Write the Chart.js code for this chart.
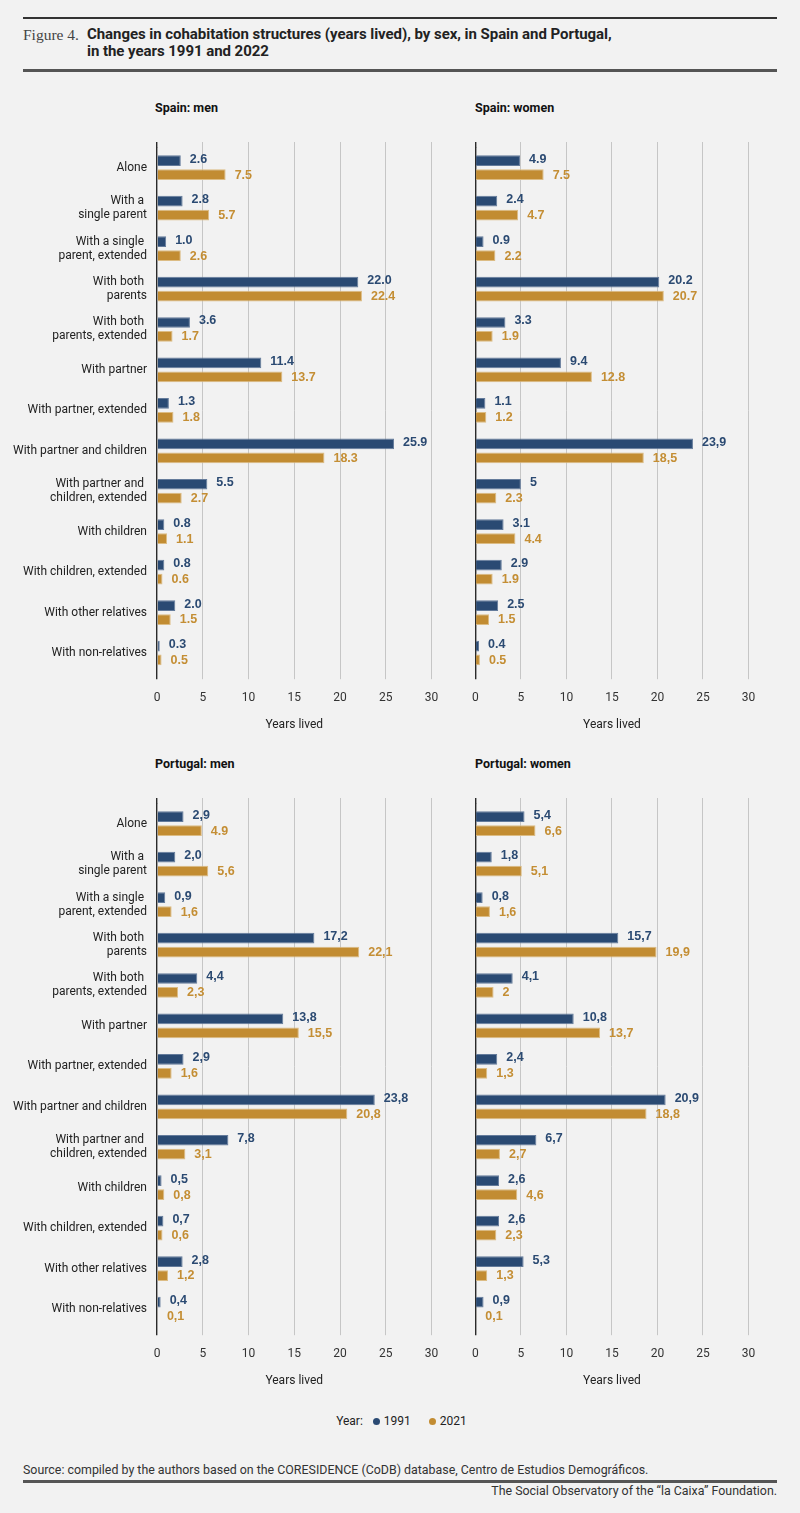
<!DOCTYPE html>
<html><head><meta charset="utf-8">
<script src="https://cdn.jsdelivr.net/npm/chart.js@4.4.1/dist/chart.umd.min.js"></script>
<style>
html,body{margin:0;padding:0;background:#f2f2f2;}
body{width:800px;height:1513px;position:relative;overflow:hidden;font-family:Roboto,"Liberation Sans",sans-serif;color:#222;}
.abs{position:absolute;white-space:nowrap;}
.rule1{left:23px;width:754px;top:17px;height:2px;background:#333;}
.rule2{left:23px;width:754px;top:69px;height:3px;background:#555;}
.rule3{left:23px;width:754px;top:1480px;height:3px;background:#555;}
.fig{left:23px;top:26px;font-family:"Liberation Serif",serif;font-size:15.5px;color:#444;line-height:18px;}
.title{left:87px;top:26px;font-weight:bold;font-size:15px;letter-spacing:-0.05px;line-height:17px;color:#222;}
.ptitle{font-weight:bold;font-size:12.5px;line-height:14px;color:#111;}
.legend{left:0;width:803px;top:1413px;text-align:center;font-size:12px;line-height:16px;color:#222;}
.dot{display:inline-block;width:7px;height:7px;border-radius:50%;margin:0 4px 0 10px;vertical-align:0px;}
.src{left:23px;top:1462px;font-size:12.4px;line-height:16px;color:#333;}
.foot{right:23px;top:1483px;font-size:12.4px;line-height:16px;color:#333;}
canvas{position:absolute;}
</style></head>
<body>
<div class="abs rule1"></div>
<div class="abs fig">Figure 4.</div>
<div class="abs title">Changes in cohabitation structures (years lived), by sex, in Spain and Portugal,<br>in the years 1991 and 2022</div>
<div class="abs rule2"></div>

<div class="abs ptitle" style="left:155px;top:101px;">Spain: men</div>
<div class="abs ptitle" style="left:475px;top:101px;">Spain: women</div>
<div class="abs ptitle" style="left:155px;top:757px;">Portugal: men</div>
<div class="abs ptitle" style="left:475px;top:757px;">Portugal: women</div>

<canvas id="c1" width="460" height="620" style="left:0;top:120px;"></canvas>
<canvas id="c2" width="340" height="620" style="left:460px;top:120px;"></canvas>
<canvas id="c3" width="460" height="620" style="left:0;top:776px;"></canvas>
<canvas id="c4" width="340" height="620" style="left:460px;top:776px;"></canvas>

<div class="abs legend">Year:<span class="dot" style="background:#2a4a73"></span>1991<span class="dot" style="background:#c28c32;margin-left:18px"></span>2021</div>
<div class="abs src">Source: compiled by the authors based on the CORESIDENCE (CoDB) database, Centro de Estudios Demográficos.</div>
<div class="abs rule3"></div>
<div class="abs foot">The Social Observatory of the “la Caixa” Foundation.</div>

<script>
const categories = [
  "Alone",
  ["With a ", "single parent"],
  ["With a single ", "parent, extended"],
  ["With both ", "parents"],
  ["With both ", "parents, extended"],
  "With partner",
  "With partner, extended",
  "With partner and children",
  ["With partner and ", "children, extended"],
  "With children",
  "With children, extended",
  "With other relatives",
  "With non-relatives"
];
const xTicks = [0, 5, 10, 15, 20, 25, 30];
const seriesNames = ["1991", "2021"];

const spainMen1991 = [2.6, 2.8, 1.0, 22.0, 3.6, 11.4, 1.3, 25.9, 5.5, 0.8, 0.8, 2.0, 0.3];
const spainMen2021 = [7.5, 5.7, 2.6, 22.4, 1.7, 13.7, 1.8, 18.3, 2.7, 1.1, 0.6, 1.5, 0.5];
const spainWomen1991 = [4.9, 2.4, 0.9, 20.2, 3.3, 9.4, 1.1, 23.9, 5, 3.1, 2.9, 2.5, 0.4];
const spainWomen2021 = [7.5, 4.7, 2.2, 20.7, 1.9, 12.8, 1.2, 18.5, 2.3, 4.4, 1.9, 1.5, 0.5];
const portugalMen1991 = [2.9, 2.0, 0.9, 17.2, 4.4, 13.8, 2.9, 23.8, 7.8, 0.5, 0.7, 2.8, 0.4];
const portugalMen2021 = [4.9, 5.6, 1.6, 22.1, 2.3, 15.5, 1.6, 20.8, 3.1, 0.8, 0.6, 1.2, 0.1];
const portugalWomen1991 = [5.4, 1.8, 0.8, 15.7, 4.1, 10.8, 2.4, 20.9, 6.7, 2.6, 2.6, 5.3, 0.9];
const portugalWomen2021 = [6.6, 5.1, 1.6, 19.9, 2, 13.7, 1.3, 18.8, 2.7, 4.6, 2.3, 1.3, 0.1];

// value labels exactly as printed in the figure
const spainMen1991Text = ["2.6","2.8","1.0","22.0","3.6","11.4","1.3","25.9","5.5","0.8","0.8","2.0","0.3"];
const spainMen2021Text = ["7.5","5.7","2.6","22.4","1.7","13.7","1.8","18.3","2.7","1.1","0.6","1.5","0.5"];
const spainWomen1991Text = ["4.9","2.4","0.9","20.2","3.3","9.4","1.1","23,9","5","3.1","2.9","2.5","0.4"];
const spainWomen2021Text = ["7.5","4.7","2.2","20.7","1.9","12.8","1.2","18,5","2.3","4.4","1.9","1.5","0.5"];
const portugalMen1991Text = ["2,9","2,0","0,9","17,2","4,4","13,8","2,9","23,8","7,8","0,5","0,7","2,8","0,4"];
const portugalMen2021Text = ["4.9","5,6","1,6","22,1","2,3","15,5","1,6","20,8","3,1","0,8","0,6","1,2","0,1"];
const portugalWomen1991Text = ["5,4","1,8","0,8","15,7","4,1","10,8","2,4","20,9","6,7","2,6","2,6","5,3","0,9"];
const portugalWomen2021Text = ["6,6","5,1","1,6","19,9","2","13,7","1,3","18,8","2,7","4,6","2,3","1,3","0,1"];

const NAVY = "#2a4a73", GOLD = "#c28c32";
const NAVY_TXT = "#2b4a72", GOLD_TXT = "#c48e34";

const valueLabels = {
  id: "valueLabels",
  afterDatasetsDraw(chart) {
    const ctx = chart.ctx;
    chart.data.datasets.forEach((ds, i) => {
      const meta = chart.getDatasetMeta(i);
      meta.data.forEach((bar, j) => {
        ctx.save();
        ctx.font = 'bold 12.5px "Liberation Sans", Arial, sans-serif';
        ctx.fillStyle = ds.labelColor;
        ctx.textAlign = "left";
        ctx.textBaseline = "middle";
        ctx.fillText(ds.labelTexts[j], bar.x + 9, bar.y + (i === 0 ? -1.5 : 0.5));
        ctx.restore();
      });
    });
  }
};

const gridColor = c => (c.tick && c.tick.value === 0) ? "#2a2a2a" : "#c6c6c6";
const gridWidth = c => (c.tick && c.tick.value === 0) ? 1.4 : 1;

function makePanel(id, v91, v21, t91, t21, showLabels) {
  new Chart(document.getElementById(id), {
    type: "bar",
    data: {
      labels: categories,
      datasets: [
        { label: seriesNames[0], data: v91, backgroundColor: NAVY, borderColor: "#647b9b", borderWidth: 1,
          categoryPercentage: 0.69, barPercentage: 0.77, labelColor: NAVY_TXT, labelTexts: t91 },
        { label: seriesNames[1], data: v21, backgroundColor: GOLD, borderColor: "#dcbc84", borderWidth: 1,
          categoryPercentage: 0.69, barPercentage: 0.77, labelColor: GOLD_TXT, labelTexts: t21 }
      ]
    },
    options: {
      indexAxis: "y",
      responsive: false,
      maintainAspectRatio: false,
      animation: false,
      layout: { padding: { left: showLabels ? 0 : 14, right: showLabels ? 28.5 : 51.5, top: 22, bottom: 4 } },
      plugins: { legend: { display: false }, tooltip: { enabled: false } },
      scales: {
        x: {
          type: "linear", position: "bottom", min: xTicks[0], max: xTicks[xTicks.length - 1],
          afterBuildTicks: s => { s.ticks = xTicks.map(v => ({ value: v })); },
          ticks: { padding: 12, color: "#333", font: { family: "Roboto", size: 12 } },
          grid: { color: gridColor, lineWidth: gridWidth, tickLength: 6 },
          border: { display: false },
          title: { display: true, text: "Years lived", color: "#222", font: { family: "Roboto", size: 12 }, padding: { top: 0, bottom: 4 } }
        },
        x2: {
          type: "linear", position: "top", min: xTicks[0], max: xTicks[xTicks.length - 1],
          afterBuildTicks: s => { s.ticks = xTicks.map(v => ({ value: v })); },
          ticks: { display: false },
          grid: { drawOnChartArea: false, color: gridColor, lineWidth: gridWidth, tickLength: 5.5 },
          border: { display: false }
        },
        y: {
          type: "category", display: showLabels,
          grid: { display: false, drawTicks: false, tickLength: 0 }, border: { display: false },
          ticks: { padding: 10, color: "#222", font: { family: "Roboto", size: 12, lineHeight: 1.17 } },
          afterFit: s => { s.width = showLabels ? 157 : 0; }
        }
      }
    },
    plugins: [valueLabels]
  });
}

makePanel("c1", spainMen1991, spainMen2021, spainMen1991Text, spainMen2021Text, true);
makePanel("c2", spainWomen1991, spainWomen2021, spainWomen1991Text, spainWomen2021Text, false);
makePanel("c3", portugalMen1991, portugalMen2021, portugalMen1991Text, portugalMen2021Text, true);
makePanel("c4", portugalWomen1991, portugalWomen2021, portugalWomen1991Text, portugalWomen2021Text, false);
</script>
</body></html>
